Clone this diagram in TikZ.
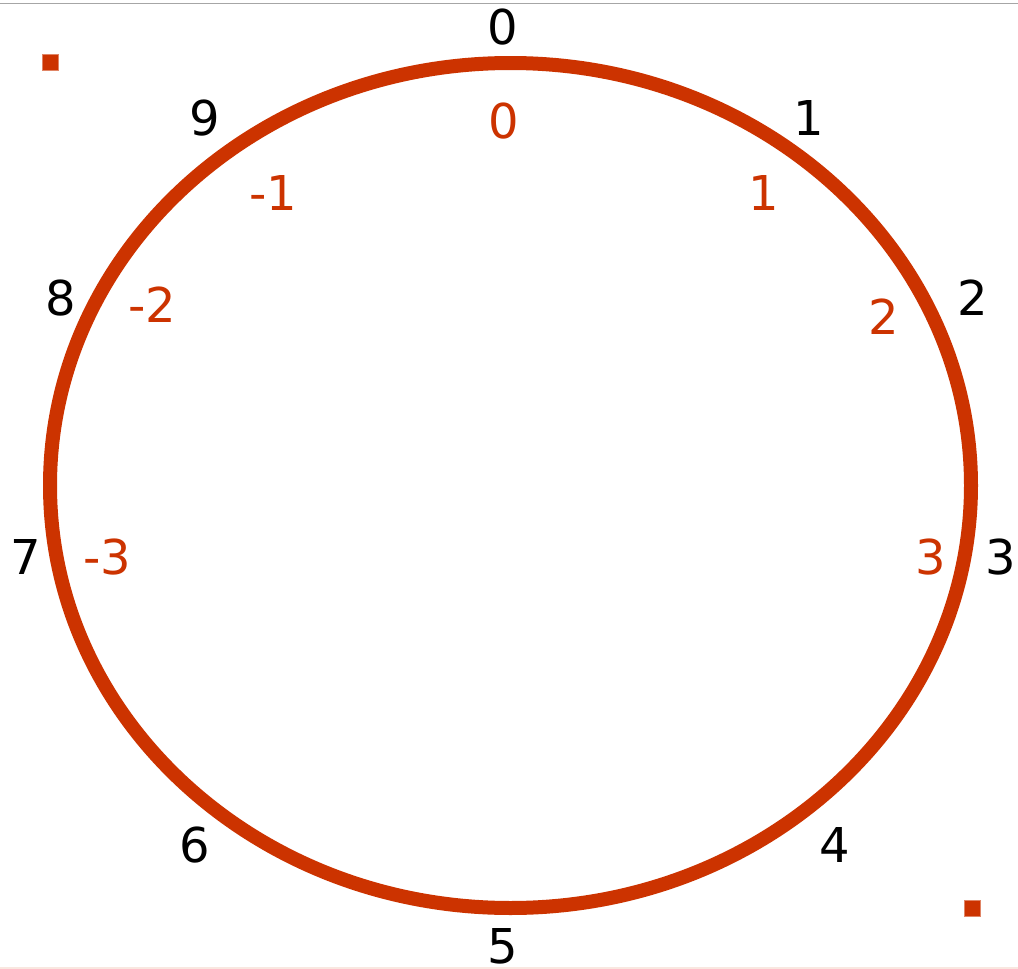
\documentclass[tikz,border=0pt]{standalone}
\usepackage{fontspec}
\setmainfont{DejaVu Sans}
\definecolor{ringred}{RGB}{204,51,0}
\begin{document}
\begin{tikzpicture}[x=1pt,y=-1pt,
  outer/.style={inner sep=0pt, font=\fontsize{48}{48}\selectfont, text=black},
  inner/.style={inner sep=0pt, font=\fontsize{48}{48}\selectfont, text=ringred},
  marker/.style={fill=ringred, draw=ringred!60, line width=0.6pt, minimum size=16pt, inner sep=0pt}]
\useasboundingbox (0,0) rectangle (1018,969);
\fill[white] (0,0) rectangle (1018,969);
\draw[gray!70, line width=1.3pt] (0,3.5) -- (1018,3.5);
\draw[ringred!12, line width=1.2pt] (0,968) -- (1018,968);
\coordinate (c) at (510.5,485.5);
\draw[ringred, line width=14pt] (c) ellipse [x radius=460.5, y radius=-422.5];
\node[outer] (o0) at (503,27) {0};
\node[outer] (o1) at (809,118) {1};
\node[outer] (o2) at (973,298) {2};
\node[outer] (o3) at (1001,557) {3};
\node[outer] (o4) at (835,845) {4};
\node[outer] (o5) at (503,946) {5};
\node[outer] (o6) at (195,845) {6};
\node[outer] (o7) at (26,557) {7};
\node[outer] (o8) at (61,298) {8};
\node[outer] (o9) at (205,118) {9};
\node[inner] (i0) at (504,121) {0};
\node[inner] (i1) at (764,193) {1};
\node[inner] (i2) at (884,317) {2};
\node[inner] (i3) at (931,557) {3};
\node[inner] (im1) at (273,193) {-1};
\node[inner] (im2) at (152,305) {-2};
\node[inner] (im3) at (107,557) {-3};
\node[marker] (m1) at (50,62) {};
\node[marker] (m2) at (972,908) {};
\end{tikzpicture}
\end{document}
